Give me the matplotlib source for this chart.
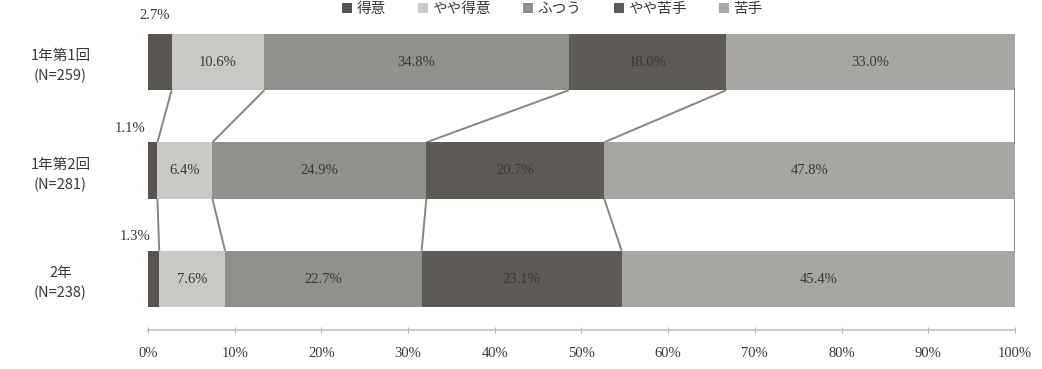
import matplotlib
matplotlib.use("Agg")
import matplotlib.pyplot as plt
from matplotlib.patches import Patch
import numpy as np

plt.rcParams['font.family'] = ['Noto Sans CJK JP', 'DejaVu Sans']

# Survey groups (top to bottom) and response shares in percent
groups = ["1年第1回\n(N=259)", "1年第2回\n(N=281)", "2年\n(N=238)"]
responses = ["得意", "やや得意", "ふつう", "やや苦手", "苦手"]
tokui = [2.7, 1.1, 1.3]
yaya_tokui = [10.6, 6.4, 7.6]
futsuu = [34.8, 24.9, 22.7]
yaya_nigate = [18.0, 20.7, 23.1]
nigate = [33.0, 47.8, 45.4]
xticks_pct = [0, 10, 20, 30, 40, 50, 60, 70, 80, 90, 100]

series = [tokui, yaya_tokui, futsuu, yaya_nigate, nigate]
colors = ["#585551", "#c9c8c5", "#8f918d", "#5e5a55", "#a8a6a3"]
text_color = "#3a3937"
link_color = "#8c8480"
num_font = ["Liberation Serif", "DejaVu Serif"]

vals = np.array(series, dtype=float).T          # rows = groups
shares = vals / vals.sum(axis=1, keepdims=True) * 100  # 100% stacked
cum = np.cumsum(shares, axis=1)
left = cum - shares

fig = plt.figure(figsize=(10.42, 3.69), dpi=100)
ax = fig.add_axes([0.142, 0.1057, 0.832, 0.84])

y = np.arange(len(groups))
h = 0.52
for j, name in enumerate(responses):
    ax.barh(y, shares[:, j], left=left[:, j], height=h, color=colors[j],
            edgecolor="none", label=name, zorder=2)

# segment labels inside bars (categories 2-5)
for i in range(len(groups)):
    for j in range(1, len(responses)):
        ax.text(left[i, j] + shares[i, j] / 2, y[i], f"{vals[i, j]:.1f}%",
                ha="center", va="center", fontsize=10.5, color=text_color,
                family=num_font, zorder=4)

# small first-segment labels placed outside the bars
small_pos = [(0.8, -0.43, "center"), (-0.3, 0.61, "right"), (0.3, 1.61, "right")]
for i, (xx, yy, ha) in enumerate(small_pos):
    ax.text(xx, yy, f"{vals[i, 0]:.1f}%", ha=ha, va="center", fontsize=10.5,
            color=text_color, family=num_font, clip_on=False, zorder=4)

# connector lines between matching boundaries of consecutive bars
for i in range(len(groups) - 1):
    for k in range(len(responses)):
        ax.plot([cum[i, k], cum[i + 1, k]], [y[i] + h / 2, y[i + 1] - h / 2],
                color=link_color, lw=1.4, zorder=1, solid_capstyle="butt")

ax.set_xlim(0, 100)
ax.set_ylim(2.47, -0.387)
ax.set_xticks(xticks_pct)
ax.set_xticklabels([f"{t}%" for t in xticks_pct], family=num_font,
                   fontsize=10.5, color=text_color)
ax.set_yticks(y)
ax.set_yticklabels(groups, fontsize=10.5, color=text_color, ha="center",
                   linespacing=1.5)
ax.tick_params(axis="y", length=0, pad=63)
ax.tick_params(axis="x", direction="inout", length=5, color="#b5b3b0",
               pad=10)
for s in ["top", "right", "left"]:
    ax.spines[s].set_visible(False)
ax.spines["bottom"].set_color("#c4c2bf")
ax.spines["bottom"].set_linewidth(1.2)

handles = [Patch(facecolor=c, edgecolor="none") for c in colors]
fig.legend(handles, responses, loc="center", bbox_to_anchor=(0.53, 1 - 9 / 369),
           ncol=5, frameon=False, fontsize=10.5, handlelength=0.7,
           handleheight=0.7, handletextpad=0.3, columnspacing=2.2,
           labelcolor=text_color, borderpad=0.1)

fig.savefig("out.png", dpi=100, facecolor="white")
